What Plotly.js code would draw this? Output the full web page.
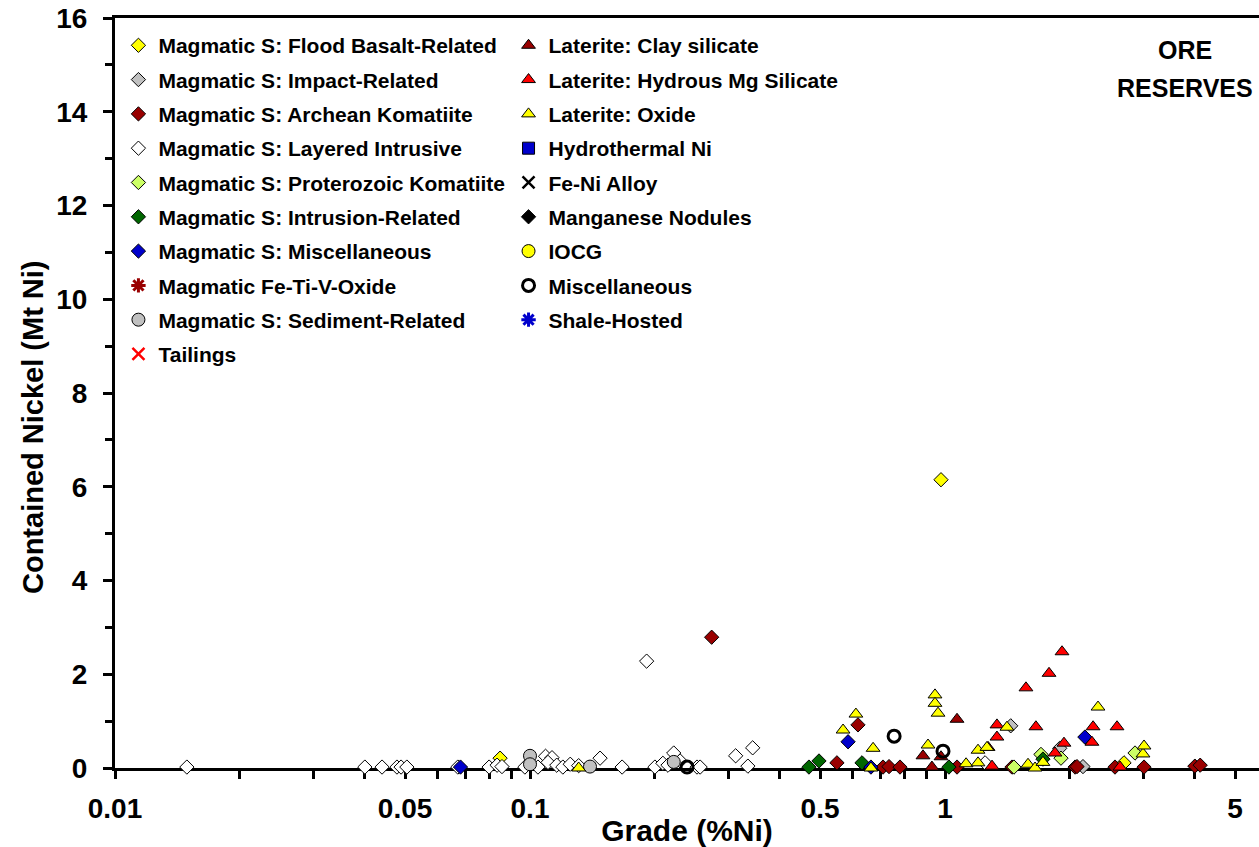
<!DOCTYPE html>
<html>
<head>
<meta charset="utf-8">
<script src="https://cdn.plot.ly/plotly-3.0.1.min.js"></script>
<style>html,body{margin:0;padding:0;background:#fff;overflow:hidden}</style>
</head>
<body>
<div id="chart" style="width:1259px;height:847px"></div>
<script>
// ---- Data (grade %Ni, contained Ni Mt) ----
const floodBasaltX = [0.0847, 0.978, 2.70];
const floodBasaltY = [0.21, 6.15, 0.11];
const impactX = [1.44, 1.89, 2.15];
const impactY = [0.90, 0.42, 0.03];
const archeanX = [0.274, 0.549, 0.617, 0.709, 0.733, 0.779, 1.069, 1.45, 2.058, 2.08, 2.568, 3.017, 4.0, 4.12];
const archeanY = [2.79, 0.11, 0.92, 0.02, 0.03, 0.02, 0.02, 0.02, 0.02, 0.03, 0.02, 0.02, 0.04, 0.06];
const layeredX = [0.0149, 0.040, 0.044, 0.0478, 0.0489, 0.0505, 0.067, 0.0797, 0.0833, 0.0856, 0.0972, 0.1045, 0.109, 0.113, 0.1105, 0.116, 0.120, 0.125, 0.131, 0.1475, 0.1667, 0.191, 0.200, 0.209, 0.215, 0.222, 0.230, 0.2526, 0.257, 0.313, 0.335, 0.344, 1.249];
const layeredY = [0.02, 0.02, 0.02, 0.02, 0.02, 0.02, 0.02, 0.02, 0.06, 0.03, 0.02, 0.02, 0.25, 0.22, 0.12, 0.06, 0.02, 0.08, 0.05, 0.21, 0.02, 2.28, 0.02, 0.10, 0.06, 0.32, 0.15, 0.02, 0.02, 0.26, 0.04, 0.43, 0.11];
const proterozoicX = [1.466, 1.703, 1.903, 2.87];
const proterozoicY = [0.02, 0.29, 0.21, 0.32];
const intrusionX = [0.470, 0.497, 0.631, 1.022, 1.722];
const intrusionY = [0.02, 0.15, 0.11, 0.02, 0.19];
const magMiscX = [0.068, 0.584, 0.663, 2.173];
const magMiscY = [0.02, 0.56, 0.02, 0.66];
const feTiVX = [null];
const feTiVY = [null];
const sedimentX = [0.1, 0.1, 0.1395, 0.222];
const sedimentY = [0.26, 0.08, 0.03, 0.13];
const tailingsX = [null];
const tailingsY = [null];
const claySilX = [0.885, 0.930, 0.978, 1.069, 1.27];
const claySilY = [0.26, 0.02, 0.24, 1.04, 0.44];
const hydrousMgX = [1.298, 1.334, 1.334, 1.567, 1.656, 1.781, 1.841, 1.914, 1.935, 2.26, 2.274, 2.597, 2.641];
const hydrousMgY = [0.04, 0.92, 0.66, 1.71, 0.88, 2.02, 0.32, 2.48, 0.53, 0.55, 0.88, 0.88, 0.02];
const oxideX = [0.131, 0.568, 0.610, 0.663, 0.671, 0.910, 0.946, 0.946, 0.962, 1.124, 1.201, 1.201, 1.262, 1.41, 1.585, 1.648, 1.722, 2.337, 3.0, 3.017];
const oxideY = [0.0, 0.81, 1.15, 0.0, 0.42, 0.49, 1.56, 1.38, 1.17, 0.09, 0.38, 0.11, 0.44, 0.87, 0.08, 0.0, 0.12, 1.30, 0.30, 0.47];
const hydrothermalX = [null];
const hydrothermalY = [null];
const feNiX = [null];
const feNiY = [null];
const manganeseX = [null];
const manganeseY = [null];
const iocgX = [null];
const iocgY = [null];
const miscX = [0.239, 0.754, 0.989];
const miscY = [0.02, 0.68, 0.36];
const shaleX = [null];
const shaleY = [null];

const xTickVals = [0.01,0.02,0.03,0.04,0.05,0.06,0.07,0.08,0.09,0.1,0.2,0.3,0.4,0.5,0.6,0.7,0.8,0.9,1,2,3,4,5];
const xTickText = ['0.01','','','','0.05','','','','','0.1','','','','0.5','','','','','1','','','','5'];

const FONT = 'Liberation Sans, Arial, sans-serif';
function mk(name, x, y, symbol, color, size, legend, lineW, lineColor) {
  return {
    type: 'scatter', mode: 'markers', name: name, x: x, y: y,
    legend: legend, legendgroup: name, cliponaxis: false,
    marker: { symbol: symbol, color: color, size: size,
      line: { color: lineColor || '#000000', width: lineW === undefined ? 1 : lineW } },
    hoverinfo: 'x+y+name'
  };
}
const traces = [
  mk('Magmatic S: Flood Basalt-Related', floodBasaltX, floodBasaltY, 'diamond', '#FFFF00', 11, 'legend'),
  mk('Magmatic S: Impact-Related', impactX, impactY, 'diamond', '#C0C0C0', 11, 'legend'),
  mk('Magmatic S: Archean Komatiite', archeanX, archeanY, 'diamond', '#990000', 11, 'legend'),
  mk('Magmatic S: Layered Intrusive', layeredX, layeredY, 'diamond', '#FFFFFF', 11, 'legend'),
  mk('Magmatic S: Proterozoic Komatiite', proterozoicX, proterozoicY, 'diamond', '#CCFF66', 11, 'legend'),
  mk('Magmatic S: Intrusion-Related', intrusionX, intrusionY, 'diamond', '#006600', 11, 'legend'),
  mk('Magmatic S: Miscellaneous', magMiscX, magMiscY, 'diamond', '#0000CC', 11, 'legend'),
  mk('Magmatic Fe-Ti-V-Oxide', feTiVX, feTiVY, 'asterisk-open', '#990000', 12, 'legend', 3, '#990000'),
  mk('Magmatic S: Sediment-Related', sedimentX, sedimentY, 'circle', '#C0C0C0', 13, 'legend'),
  mk('Tailings', tailingsX, tailingsY, 'x-thin-open', '#FF0000', 12, 'legend', 2.5, '#FF0000'),
  mk('Laterite: Clay silicate', claySilX, claySilY, 'triangle-up', '#990000', 12, 'legend2'),
  mk('Laterite: Hydrous Mg Silicate', hydrousMgX, hydrousMgY, 'triangle-up', '#FF0000', 12, 'legend2'),
  mk('Laterite: Oxide', oxideX, oxideY, 'triangle-up', '#FFFF00', 12, 'legend2'),
  mk('Hydrothermal Ni', hydrothermalX, hydrothermalY, 'square', '#0000CC', 12, 'legend2'),
  mk('Fe-Ni Alloy', feNiX, feNiY, 'x-thin-open', '#000000', 12, 'legend2', 2.5, '#000000'),
  mk('Manganese Nodules', manganeseX, manganeseY, 'diamond', '#000000', 11, 'legend2'),
  mk('IOCG', iocgX, iocgY, 'circle', '#FFFF00', 13, 'legend2'),
  mk('Miscellaneous', miscX, miscY, 'circle-open', '#000000', 12, 'legend2', 3, '#000000'),
  mk('Shale-Hosted', shaleX, shaleY, 'asterisk-open', '#0000CC', 12, 'legend2', 3, '#0000CC')
];

const legendFont = { family: FONT, size: 21, color: '#000000', weight: 'bold' };
const layout = {
  width: 1259, height: 847,
  margin: { l: 115, r: 0, t: 18, b: 79, pad: 0 },
  paper_bgcolor: '#FFFFFF', plot_bgcolor: '#FFFFFF',
  showlegend: true,
  xaxis: {
    type: 'log', range: [-2, 0.7566],
    showgrid: false, zeroline: false,
    showline: true, linecolor: '#000000', linewidth: 3, mirror: true,
    ticks: 'outside', ticklen: 8, tickwidth: 3, tickcolor: '#000000',
    tickmode: 'array', tickvals: xTickVals, ticktext: xTickText,
    ticklabelstandoff: 5,
    tickfont: { family: FONT, size: 28, color: '#000000', weight: 'bold' },
    title: { text: 'Grade (%Ni)', standoff: 2, font: { family: FONT, size: 30, color: '#000000', weight: 'bold' } },
    layer: 'below traces', fixedrange: true
  },
  yaxis: {
    range: [0, 16], dtick: 2, tick0: 0,
    showgrid: false, zeroline: false,
    showline: true, linecolor: '#000000', linewidth: 3,
    ticks: 'outside', ticklen: 9, tickwidth: 3, tickcolor: '#000000',
    minor: { dtick: 1, ticks: 'outside', ticklen: 7, tickwidth: 3, tickcolor: '#000000', showgrid: false },
    ticklabelstandoff: 10,
    tickfont: { family: FONT, size: 28, color: '#000000', weight: 'bold' },
    title: { text: '' },
    layer: 'below traces', fixedrange: true
  },
  legend: {
    x: 0.003, y: 0.9905, xanchor: 'left', yanchor: 'top',
    bgcolor: 'rgba(0,0,0,0)', borderwidth: 0,
    font: legendFont, tracegroupgap: 4, traceorder: 'grouped', itemclick: false
  },
  legend2: {
    x: 0.344, y: 0.9905, xanchor: 'left', yanchor: 'top',
    bgcolor: 'rgba(0,0,0,0)', borderwidth: 0,
    font: legendFont, tracegroupgap: 4, traceorder: 'grouped', itemclick: false
  },
  annotations: [
    { xref: 'paper', yref: 'paper', x: (33 - 115) / 1144, y: (768 - 427) / 750, xanchor: 'center', yanchor: 'middle',
      textangle: -90, text: 'Contained Nickel (Mt Ni)', showarrow: false,
      font: { family: FONT, size: 29, color: '#000000', weight: 'bold' } },
    { xref: 'paper', yref: 'paper', x: (1185 - 115) / 1144, y: (768 - 50) / 750, xanchor: 'center', yanchor: 'middle',
      text: 'ORE', showarrow: false, font: { family: FONT, size: 25, color: '#000000', weight: 'bold' } },
    { xref: 'paper', yref: 'paper', x: (1185 - 115) / 1144, y: (768 - 88) / 750, xanchor: 'center', yanchor: 'middle',
      text: 'RESERVES', showarrow: false, font: { family: FONT, size: 25, color: '#000000', weight: 'bold' } }
  ]
};
Plotly.newPlot('chart', traces, layout, { displayModeBar: false, staticPlot: true });
</script>
</body>
</html>
